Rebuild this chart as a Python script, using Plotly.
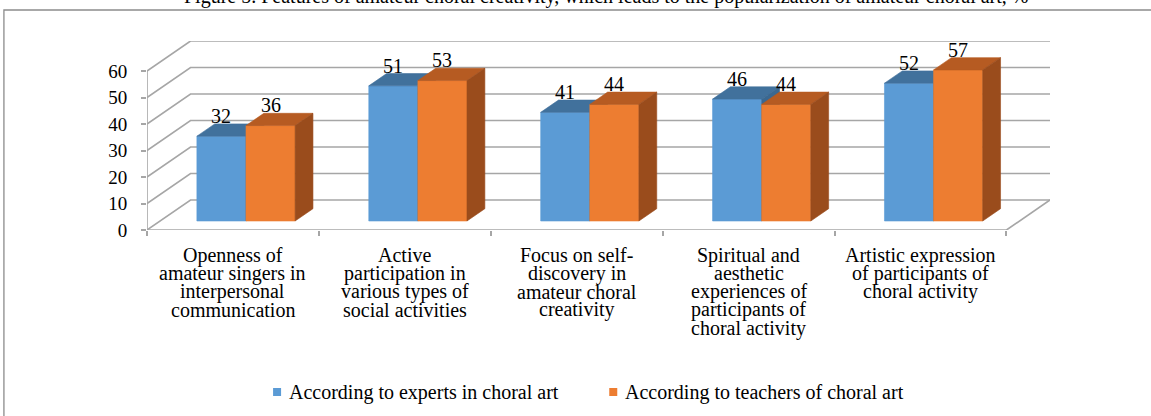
import plotly.graph_objects as go

# ---- data -------------------------------------------------------------
category_lines = [
    ["Openness of", "amateur singers in", "interpersonal", "communication"],
    ["Active", "participation in", "various types of", "social activities"],
    ["Focus on self-", "discovery in", "amateur choral", "creativity"],
    ["Spiritual and", "aesthetic", "experiences of", "participants of", "choral activity"],
    ["Artistic expression", "of participants of", "choral activity"],
]
series_names = ["According to experts in choral art", "According to teachers of choral art"]
experts = [32, 51, 41, 46, 52]
teachers = [36, 53, 44, 44, 57]
y_ticks = [0, 10, 20, 30, 40, 50, 60]
title_text = ("Figure 5. Features of amateur choral creativity, which leads to the "
              "popularization of amateur choral art, %")

# ---- geometry / style ---------------------------------------------------
W, H = 1151, 416
CAT_PX = 171.8          # pixels per category on the front plane
VAL_PX = 2.65           # pixels per value unit
DEPTH_X_PX, DEPTH_Y_PX = 43.5, 30.0   # oblique offset of the full floor depth
ML, MB = 147, 186
N = len(experts)
Y_MAX = max(y_ticks)
DX = DEPTH_X_PX / CAT_PX
DY = DEPTH_Y_PX / VAL_PX
x_range = [0, N + DX]
y_range = [0, Y_MAX + DY]
plot_w = (x_range[1] - x_range[0]) * CAT_PX
plot_h = (y_range[1] - y_range[0]) * VAL_PX
MR = W - ML - plot_w
MT = H - MB - plot_h

GAP = 1.5               # gap width relative to a bar
BAR_W = 1 / (2 + GAP)
D_FRONT, D_BACK = 0.3, 0.71   # bar depth span as fraction of floor depth

colors = [
    dict(front="#5B9BD5", top="#41719C", side="#3A6891"),
    dict(front="#ED7D31", top="#B65B22", side="#9A4C1C"),
]
GRID = "#A6A6A6"
FONT = "Liberation Serif"


def px_x(px):
    return (px - ML) / plot_w


def px_y(py):
    return (H - MB - py) / plot_h


fig = go.Figure()

# ---- walls, floor and grid --------------------------------------------
lx, ly = [], []
for v in y_ticks:
    lx += [0, DX, N + DX, None]
    ly += [v, v + DY, v + DY, None]
lx += [0, 0, None, 0, N, N + DX, None]
ly += [0, Y_MAX, None, 0, 0, DY, None]
fig.add_trace(go.Scatter(x=lx, y=ly, mode="lines", line=dict(color=GRID, width=1.6),
                         hoverinfo="skip", showlegend=False))

# ---- 3-D bars -----------------------------------------------------------
ox, oy = D_FRONT * DX, D_FRONT * DY
bx, by = (D_BACK - D_FRONT) * DX, (D_BACK - D_FRONT) * DY


def face(xs, ys, color):
    fig.add_trace(go.Scatter(x=xs + [xs[0]], y=ys + [ys[0]], fill="toself", fillcolor=color,
                             mode="lines", line=dict(width=0.6, color=color),
                             hoverinfo="skip", showlegend=False))


annotations = []
for i in range(N):
    for j, vals in enumerate([experts, teachers]):
        v = vals[i]
        xl = i + 0.5 - BAR_W + j * BAR_W + ox
        xr = xl + BAR_W
        c = colors[j]
        face([xl, xr, xr, xl], [oy, oy, v + oy, v + oy], c["front"])
        face([xl, xr, xr + bx, xl + bx], [v + oy, v + oy, v + oy + by, v + oy + by], c["top"])
        face([xr, xr + bx, xr + bx, xr], [oy, oy + by, v + oy + by, v + oy], c["side"])
        annotations.append(dict(x=(xl + xr) / 2, y=v + oy + by, xref="x", yref="y",
                                text=str(v), showarrow=False, yanchor="middle", yshift=8,
                                font=dict(family=FONT, size=20, color="#000")))

# ---- category labels ----------------------------------------------------
LINE_H = 18.3
for i, lines in enumerate(category_lines):
    for k, line in enumerate(lines):
        annotations.append(dict(x=i + 0.5, y=px_y(255 + k * LINE_H), xref="x", yref="paper",
                                text=line, showarrow=False, yanchor="middle", xanchor="center",
                                font=dict(family=FONT, size=20, color="#000")))

# ---- title ----------------------------------------------------------------
annotations.append(dict(x=px_x(606), y=px_y(10), xref="paper", yref="paper", text=title_text,
                        showarrow=False, xanchor="center", yanchor="bottom",
                        font=dict(family=FONT, size=20, color="#000")))

# ---- legend -----------------------------------------------------------
shapes = [dict(type="rect", xref="paper", yref="paper", x0=px_x(4), x1=px_x(1170),
               y0=px_y(10), y1=px_y(440), line=dict(color="#8C8C8C", width=1.3),
               fillcolor="rgba(0,0,0,0)", layer="below")]
legend_items = [(273, 287, colors[0]["front"]), (609, 623, colors[1]["front"])]
LEG_Y = 392
for (sq_x, tx, col), name in zip(legend_items, series_names):
    shapes.append(dict(type="rect", xref="paper", yref="paper", x0=px_x(sq_x), x1=px_x(sq_x + 8),
                       y0=px_y(LEG_Y - 4), y1=px_y(LEG_Y + 4), fillcolor=col, line=dict(width=0)))
    annotations.append(dict(x=px_x(tx), y=px_y(LEG_Y), xref="paper", yref="paper", text=name,
                            showarrow=False, xanchor="left", yanchor="middle",
                            font=dict(family=FONT, size=20, color="#000")))

fig.update_layout(
    width=W, height=H,
    margin=dict(l=ML, r=MR, t=MT, b=MB, pad=0),
    paper_bgcolor="white", plot_bgcolor="white",
    showlegend=False, hovermode=False,
    font=dict(family=FONT, color="#000"),
    xaxis=dict(range=x_range, tickvals=list(range(N + 1)), ticks="outside", ticklen=5,
               tickcolor=GRID, tickwidth=1.6, showticklabels=False, showgrid=False,
               zeroline=False, showline=False, fixedrange=True),
    yaxis=dict(range=y_range, tickvals=y_ticks, ticks="outside", ticklen=5, tickcolor=GRID,
               tickwidth=1.6, ticklabelstandoff=10, showgrid=False, zeroline=False,
               showline=False, fixedrange=True,
               tickfont=dict(family=FONT, size=19, color="#000")),
    annotations=annotations,
    shapes=shapes,
)

fig.write_html("out.html")
